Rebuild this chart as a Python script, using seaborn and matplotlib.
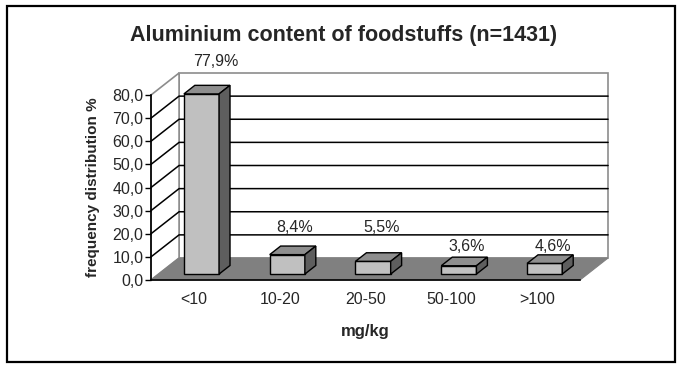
import numpy as np
import matplotlib
matplotlib.use('Agg')
import matplotlib.pyplot as plt
import seaborn as sns
from matplotlib.patches import Polygon, Rectangle

categories = ['<10', '10-20', '20-50', '50-100', '>100']
values = [77.9, 8.4, 5.5, 3.6, 4.6]
value_labels = ['77,9%', '8,4%', '5,5%', '3,6%', '4,6%']
yticks = [0, 10, 20, 30, 40, 50, 60, 70, 80]

sns.set_style('white')
plt.rcParams['font.family'] = ['Liberation Sans', 'DejaVu Sans']

fig = plt.figure(figsize=(6.85, 3.69), dpi=100)
# front plane of the 3d box
ax = fig.add_axes([151/685, 89/369, 429/685, 185/369])
ax.patch.set_visible(False)

# depth of the box (data units) and of the bars
ddx, ddy = 28/85.6, 22/2.3125
fx, fy = 0.27*ddx, 0.27*ddy
bdx, bdy = 0.39*ddx, 0.39*ddy

x0, x1 = -0.5, len(categories) - 0.5
# back wall + left wall
ax.add_patch(Rectangle((x0+ddx, ddy), x1-x0, 80, facecolor='white', edgecolor='#8c8c8c',
                       lw=1.2, clip_on=False, zorder=0))
ax.add_patch(Polygon([(x0, 0), (x0, 80), (x0+ddx, 80+ddy), (x0+ddx, ddy)], closed=True,
                     facecolor='white', edgecolor='#8c8c8c', lw=1.2, clip_on=False, zorder=0))
for v in yticks[1:-1]:
    ax.plot([x0, x0+ddx, x1+ddx], [v, v+ddy, v+ddy], color='black', lw=1.1,
            clip_on=False, zorder=1)
# floor
ax.add_patch(Polygon([(x0, 0), (x1, 0), (x1+ddx, ddy), (x0+ddx, ddy)], closed=True,
                     facecolor='#808080', edgecolor='#808080', lw=0.8, clip_on=False, zorder=2))

sns.barplot(x=categories, y=values, width=0.41, color='#c0c0c0', edgecolor='black',
            linewidth=1.0, saturation=1, ax=ax, zorder=3)

for p in ax.containers[0]:
    p.set_x(p.get_x() + fx)
    p.set_y(fy)
    p.set_clip_on(False)
    px0, px1 = p.get_x(), p.get_x() + p.get_width()
    top = fy + p.get_height()
    ax.add_patch(Polygon([(px0, top), (px1, top), (px1+bdx, top+bdy), (px0+bdx, top+bdy)],
                         closed=True, facecolor='#8e8e8e', edgecolor='black', lw=1.0,
                         clip_on=False, zorder=3))
    ax.add_patch(Polygon([(px1, fy), (px1+bdx, fy+bdy), (px1+bdx, top+bdy), (px1, top)],
                         closed=True, facecolor='#5e5e5e', edgecolor='black', lw=1.0,
                         clip_on=False, zorder=3))

# value labels (Excel style positions)
label_y = [94.3, 22.5, 22.9, 14.3, 14.3]
label_x = [0.26, 1.17, 2.19, 3.18, 4.18]
for xl, yl, lab in zip(label_x, label_y, value_labels):
    ax.text(xl, yl, lab, ha='center', va='center', fontsize=11.5, zorder=5)

ax.set_xlim(x0, x1)
ax.set_ylim(0, 80)
ax.set_yticks(yticks)
ax.set_yticklabels([f'{v:.1f}'.replace('.', ',') for v in yticks], fontsize=11.5)
ax.set_xticks(range(len(categories)))
ax.set_xticklabels(categories, fontsize=11.5)
ax.set_xticks(np.arange(x0, x1 + 0.01, 1), minor=True)
ax.tick_params(axis='x', which='major', length=0, pad=9)
ax.tick_params(axis='x', which='minor', length=4.5, width=1, color='black', direction='out')
ax.tick_params(axis='y', length=4, width=1, color='black', direction='out', pad=1.5, left=True)
for s in ['top', 'right']:
    ax.spines[s].set_visible(False)
for s in ['left', 'bottom']:
    ax.spines[s].set_color('black')
    ax.spines[s].set_linewidth(1.2)
    ax.spines[s].set_zorder(4)

ax.set_xlabel('mg/kg', fontsize=12, fontweight='bold', labelpad=12)
ax.set_ylabel('frequency distribution %', fontsize=11, fontweight='bold', labelpad=9)
fig.text(344/685, 1 - 35/369, 'Aluminium content of foodstuffs (n=1431)', ha='center',
         va='center', fontsize=15.5, fontweight='bold')

# outer frame
fig.add_artist(Rectangle((7/685, 1 - 362/369), 668/685, 356/369, transform=fig.transFigure,
                         fill=False, edgecolor='black', lw=1.6))

fig.savefig('out.png', dpi=100)
